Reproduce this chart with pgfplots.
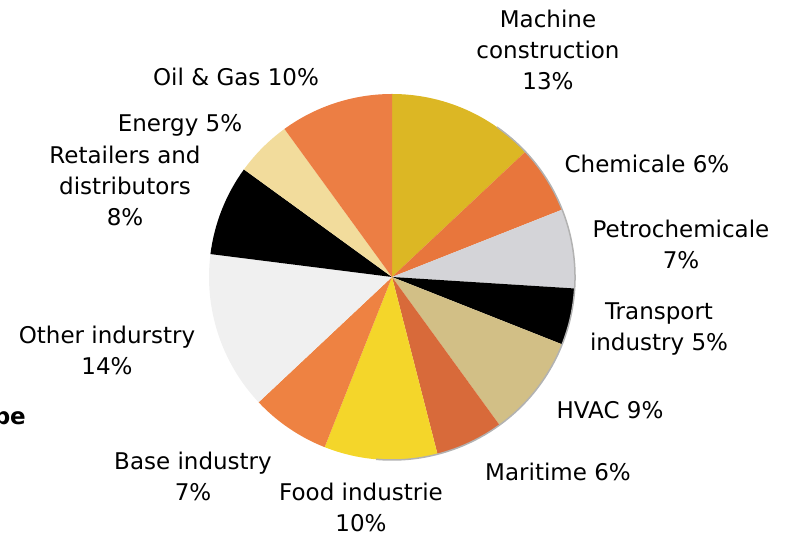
\documentclass[border=0pt]{standalone}
\usepackage{pgfplots}
\pgfplotsset{compat=1.18}
\usepackage{pgfplotstable}
\usepackage{fontspec}
\setmainfont{DejaVu Sans}

\definecolor{cGold}{HTML}{DCB724}
\definecolor{cOrangeA}{HTML}{E8763C}
\definecolor{cSilver}{HTML}{D4D4D8}
\definecolor{cTan}{HTML}{D2BF86}
\definecolor{cOrangeB}{HTML}{D86A3A}
\definecolor{cYellow}{HTML}{F4D62A}
\definecolor{cOrangeC}{HTML}{EE8242}
\definecolor{cWhite}{HTML}{F0F0F0}
\definecolor{cTanB}{HTML}{F2DC9C}
\definecolor{cOrangeD}{HTML}{EC7E44}

% share of each sector, clockwise from the top
\pgfplotstableread{
sector    value colr
Machine   13    cGold
Chemicale 6     cOrangeA
Petro     7     cSilver
Transport 5     black
HVAC      9     cTan
Maritime  6     cOrangeB
Food      10    cYellow
Base      7     cOrangeC
Other     14    cWhite
Retailers 8     black
Energy    5     cTanB
OilGas    10    cOrangeD
}\piedata

% start/end angle and colour of each slice
\def\cum{0}
\pgfplotsforeachungrouped \i in {0,...,11}{%
  \pgfplotstablegetelem{\i}{value}\of\piedata
  \let\v\pgfplotsretval
  \pgfmathsetmacro\sa{90-3.6*\cum}%
  \pgfmathsetmacro\ea{90-3.6*(\cum+\v)}%
  \expandafter\xdef\csname sa\i\endcsname{\sa}%
  \expandafter\xdef\csname ea\i\endcsname{\ea}%
  \pgfplotstablegetelem{\i}{colr}\of\piedata
  \expandafter\xdef\csname co\i\endcsname{\pgfplotsretval}%
  \pgfmathsetmacro\cum{\cum+\v}%
  \xdef\cum{\cum}%
}

\begin{document}
\begin{tikzpicture}[lbl/.style={align=center, inner sep=0pt, font=\fontsize{23}{31}\selectfont}]
\useasboundingbox (0,0) rectangle (786pt,537pt);
\clip (0,0) rectangle (786pt,537pt);
\begin{axis}[scale only axis, width=786pt, height=537pt,
             xmin=0, xmax=786, ymin=0, ymax=537,
             hide axis, clip=false]
  \pgfplotsinvokeforeach{0,...,11}{
    \fill[fill=\csname co#1\endcsname] (axis cs:392,260) -- ++(\csname sa#1\endcsname:183pt)
      arc[start angle=\csname sa#1\endcsname, end angle=\csname ea#1\endcsname, radius=183pt] -- cycle;
  }
  \draw[black!30, line width=1.5pt] (axis cs:392,260) ++(55:183pt) arc[start angle=55, end angle=-95, radius=183pt];

  \node[lbl] at (axis cs:548,487) {Machine\\construction\\13\%};
  \node[lbl] at (axis cs:236,460) {Oil \& Gas 10\%};
  \node[lbl] at (axis cs:180,412) {Energy 5\%};
  \node[lbl] at (axis cs:125,351) {Retailers and\\distributors\\8\%};
  \node[lbl] at (axis cs:647,373) {Chemicale 6\%};
  \node[lbl] at (axis cs:681,293) {Petrochemicale\\7\%};
  \node[lbl] at (axis cs:659,208) {Transport\\industry 5\%};
  \node[lbl] at (axis cs:610,127) {HVAC 9\%};
  \node[lbl] at (axis cs:558,65) {Maritime 6\%};
  \node[lbl] at (axis cs:361,30) {Food industrie\\10\%};
  \node[lbl] at (axis cs:193,61) {Base industry\\7\%};
  \node[lbl] at (axis cs:107,187) {Other indurstry\\14\%};
  \node[anchor=base east, inner sep=0pt, font=\fontsize{23}{26}\selectfont\bfseries] at (axis cs:26,112) {Type};
\end{axis}
\end{tikzpicture}
\end{document}
